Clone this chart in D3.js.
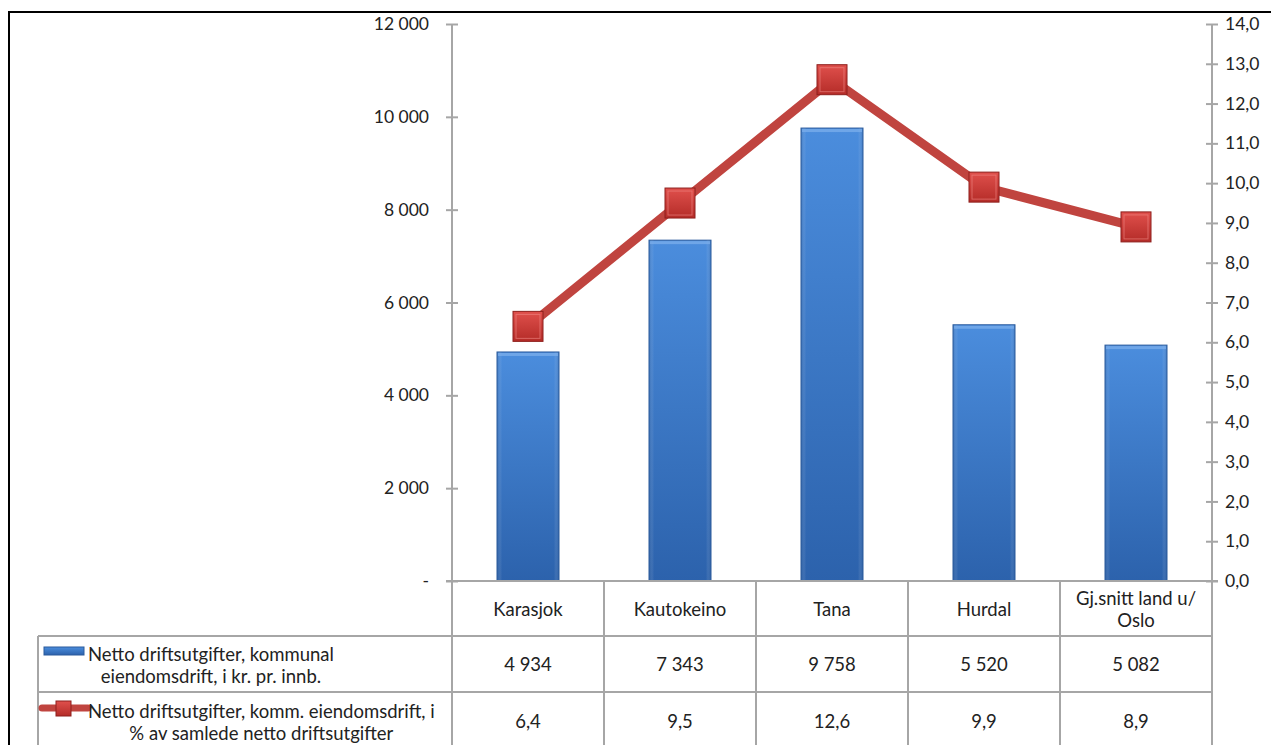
<!DOCTYPE html>
<html><head><meta charset="utf-8">
<script src="https://cdn.jsdelivr.net/npm/d3@7"></script>
<style>
html,body{margin:0;padding:0;background:#fff;}
svg{display:block;font-family:Lato,"Open Sans",sans-serif;}
</style></head>
<body>
<svg id="chart" width="1271" height="745"></svg>
<script>
const categories = ["Karasjok","Kautokeino","Tana","Hurdal","Gj.snitt land u/\nOslo"];
const barValues = [4934,7343,9758,5520,5082];
const barLabels = ["4 934","7 343","9 758","5 520","5 082"];
const lineValues = [6.4,9.5,12.6,9.9,8.9];
const lineLabels = ["6,4","9,5","12,6","9,9","8,9"];
const leftTicks = [0,2000,4000,6000,8000,10000,12000];
const leftTickLabels = ["-","2 000","4 000","6 000","8 000","10 000","12 000"];
const rightTicks = [0,1,2,3,4,5,6,7,8,9,10,11,12,13,14];
const seriesNames = [["Netto driftsutgifter, kommunal","eiendomsdrift, i kr. pr. innb."],
                     ["Netto driftsutgifter, komm. eiendomsdrift, i","% av samlede netto driftsutgifter"]];

const svg = d3.select("#chart");
const L = 452, R = 1212, T = 24, B = 581;
const gridCol = "#a6a6a6";
const FS = 18.5, AFS = 17.5;

const defs = svg.append("defs");
const bg = defs.append("linearGradient").attr("id","barGrad").attr("x1",0).attr("x2",0).attr("y1",0).attr("y2",1);
bg.append("stop").attr("offset","0%").attr("stop-color","#4b8ddd");
bg.append("stop").attr("offset","100%").attr("stop-color","#2c62ac");
const bh = defs.append("linearGradient").attr("id","barEdge").attr("x1",0).attr("x2",1).attr("y1",0).attr("y2",0);
bh.append("stop").attr("offset","0%").attr("stop-color","#1f4f8f").attr("stop-opacity",0.35);
bh.append("stop").attr("offset","8%").attr("stop-color","#ffffff").attr("stop-opacity",0);
bh.append("stop").attr("offset","92%").attr("stop-color","#ffffff").attr("stop-opacity",0);
bh.append("stop").attr("offset","100%").attr("stop-color","#1f4f8f").attr("stop-opacity",0.35);
const mg = defs.append("linearGradient").attr("id","mkGrad").attr("x1",0).attr("x2",0).attr("y1",0).attr("y2",1);
mg.append("stop").attr("offset","0%").attr("stop-color","#e0504c");
mg.append("stop").attr("offset","100%").attr("stop-color","#b42c28");

// outer border
svg.append("rect").attr("x",9).attr("y",12).attr("width",1275).attr("height",760)
  .attr("fill","none").attr("stroke","#000").attr("stroke-width",2);

const x = d3.scaleBand().domain(categories).range([L,R]).paddingInner(0).paddingOuter(0);
const yL = d3.scaleLinear().domain([0,12000]).range([B,T]);
const yR = d3.scaleLinear().domain([0,14]).range([B,T]);

// left axis
const axL = d3.axisLeft(yL).tickValues(leftTicks).tickSize(0).tickFormat((d,i)=>leftTickLabels[i]);
const gL = svg.append("g").attr("transform",`translate(${L},0)`).call(axL);
gL.select(".domain").remove();
gL.selectAll("text").attr("x",-23).attr("font-size",AFS).attr("fill","#222").attr("font-family","Lato,sans-serif");
gL.selectAll(".tick").append("line").attr("x1",-6).attr("x2",6).attr("stroke",gridCol).attr("stroke-width",2);
gL.append("line").attr("y1",T).attr("y2",B).attr("stroke",gridCol).attr("stroke-width",2);

// right axis
const axR = d3.axisRight(yR).tickValues(rightTicks).tickSize(0).tickFormat(d=>d.toFixed(1).replace(".",","));
const gR = svg.append("g").attr("transform",`translate(${R},0)`).call(axR);
gR.select(".domain").remove();
gR.selectAll("text").attr("x",13).attr("font-size",AFS).attr("fill","#222").attr("font-family","Lato,sans-serif");
gR.selectAll(".tick").append("line").attr("x1",-6).attr("x2",6).attr("stroke",gridCol).attr("stroke-width",2);
gR.append("line").attr("y1",T).attr("y2",745).attr("stroke",gridCol).attr("stroke-width",2);

// bars
const bw = 62;
const bars = svg.append("g");
categories.forEach((c,i)=>{
  const cx = x(c)+x.bandwidth()/2;
  const y0 = yL(barValues[i]);
  bars.append("rect").attr("x",cx-bw/2).attr("y",y0).attr("width",bw).attr("height",B-y0)
    .attr("fill","url(#barGrad)").attr("stroke","#2a5a9c").attr("stroke-width",1);
  bars.append("rect").attr("x",cx-bw/2).attr("y",y0).attr("width",bw).attr("height",B-y0)
    .attr("fill","url(#barEdge)");
  bars.append("rect").attr("x",cx-bw/2+1).attr("y",y0+1).attr("width",bw-2).attr("height",3)
    .attr("fill","#7fb0ec").attr("opacity",0.7);
});

// line
const line = d3.line().x((d,i)=>x(categories[i])+x.bandwidth()/2).y(d=>yR(d));
svg.append("path").datum(lineValues).attr("d",line).attr("fill","none")
  .attr("stroke","#c0443f").attr("stroke-width",9).attr("stroke-linejoin","round");
const ms = 30;
svg.append("g").selectAll("rect").data(lineValues).join("rect")
  .attr("x",(d,i)=>x(categories[i])+x.bandwidth()/2-ms/2)
  .attr("y",d=>yR(d)-ms/2).attr("width",ms).attr("height",ms)
  .attr("fill","url(#mkGrad)").attr("stroke","#8e1f1c").attr("stroke-width",1);
svg.append("g").selectAll("rect").data(lineValues).join("rect")
  .attr("x",(d,i)=>x(categories[i])+x.bandwidth()/2-ms/2+3)
  .attr("y",d=>yR(d)-ms/2+3).attr("width",ms-6).attr("height",ms-6)
  .attr("fill","none").attr("stroke","#f08a85").attr("stroke-width",1).attr("opacity",0.6);

// data table
const tL = 38, rowY = [B, 636, 692, 760];
const tbl = svg.append("g");
tbl.append("line").attr("x1",L-6).attr("x2",R+6).attr("y1",rowY[0]).attr("y2",rowY[0]).attr("stroke",gridCol).attr("stroke-width",2);
[rowY[1],rowY[2]].forEach(yy=>tbl.append("line").attr("x1",tL).attr("x2",R).attr("y1",yy).attr("y2",yy).attr("stroke",gridCol).attr("stroke-width",2));
tbl.append("line").attr("x1",tL).attr("x2",tL).attr("y1",rowY[1]).attr("y2",745).attr("stroke",gridCol).attr("stroke-width",2);
categories.forEach(c=>{
  tbl.append("line").attr("x1",x(c)).attr("x2",x(c)).attr("y1",rowY[0]).attr("y2",745).attr("stroke",gridCol).attr("stroke-width",2);
});
categories.forEach(c=>{
  const cx = x(c)+x.bandwidth()/2;
  const parts = c.split("\n");
  const t = tbl.append("text").attr("text-anchor","middle").attr("font-size",FS).attr("fill","#222");
  const y0 = parts.length===1 ? 616 : 605;
  parts.forEach((p,j)=>t.append("tspan").attr("x",cx).attr("y",y0+j*22).text(p));
});
categories.forEach((c,i)=>{
  const cx = x(c)+x.bandwidth()/2;
  tbl.append("text").attr("x",cx).attr("y",671).attr("text-anchor","middle").attr("font-size",FS).attr("fill","#222").text(barLabels[i]);
  tbl.append("text").attr("x",cx).attr("y",728).attr("text-anchor","middle").attr("font-size",FS).attr("fill","#222").text(lineLabels[i]);
});
// legend keys
tbl.append("rect").attr("x",44).attr("y",647).attr("width",40).attr("height",8).attr("fill","url(#barGrad)").attr("stroke","#2a5a9c").attr("stroke-width",1);
tbl.append("line").attr("x1",42).attr("x2",88).attr("y1",708).attr("y2",708).attr("stroke","#c0443f").attr("stroke-width",7).attr("stroke-linecap","round");
tbl.append("rect").attr("x",56).attr("y",701).attr("width",15).attr("height",15).attr("fill","url(#mkGrad)").attr("stroke","#8e1f1c").attr("stroke-width",1);
const textStarts = [88,88], textY = [[661,683],[718,740]];
seriesNames.forEach((lines,k)=>{
  const ts = lines.map((ln,j)=>tbl.append("text").attr("y",textY[k][j]).attr("font-size",FS).attr("fill","#222").text(ln));
  const widths = ts.map(t=>t.node().getComputedTextLength());
  const maxW = d3.max(widths);
  const center = textStarts[k] + maxW/2;
  ts.forEach(t=>t.attr("x",center).attr("text-anchor","middle"));
});
</script>
</body></html>
